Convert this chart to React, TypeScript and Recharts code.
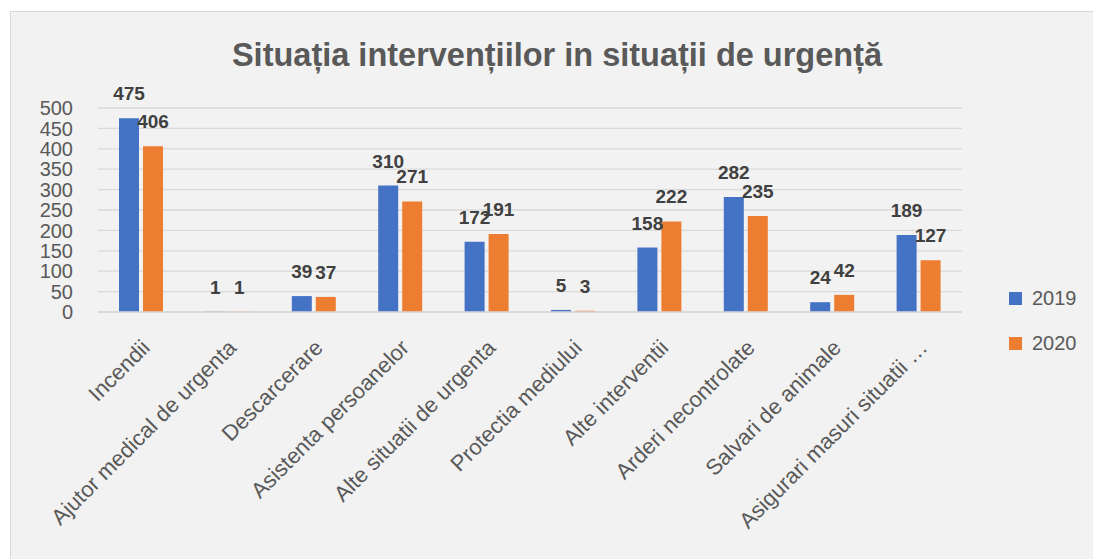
import React from "react"
import { BarChart, Bar, XAxis, YAxis, CartesianGrid, LabelList } from "recharts"

const categories = [
  "Incendii",
  "Ajutor medical de urgenta",
  "Descarcerare",
  "Asistenta persoanelor",
  "Alte situatii de urgenta",
  "Protectia mediului",
  "Alte interventii",
  "Arderi necontrolate",
  "Salvari de animale",
  "Asigurari masuri situatii …",
]

const values2019 = [475, 1, 39, 310, 172, 5, 158, 282, 24, 189]
const values2020 = [406, 1, 37, 271, 191, 3, 222, 235, 42, 127]

const yTicks = [0, 50, 100, 150, 200, 250, 300, 350, 400, 450, 500]

const series = [
  { key: "y2019", name: "2019", color: "#4472c4" },
  { key: "y2020", name: "2020", color: "#ed7d31" },
]

const data = categories.map((name, i) => ({
  name,
  y2019: values2019[i],
  y2020: values2020[i],
}))

const FONT = '"Liberation Sans", Arial, sans-serif'
const TEXT = "#595959"

export default function App() {
  return (
    <div style={{ position: "absolute", left: 0, top: 0, width: 1093, height: 559, background: "#fff", fontFamily: FONT }}>
      <div
        style={{
          position: "absolute",
          left: 10,
          top: 11,
          width: 1100,
          height: 560,
          background: "#f2f2f2",
          border: "1px solid #d9d9d9",
        }}
      />
      <div
        style={{
          position: "absolute",
          left: 0,
          width: 1114,
          top: 37,
          textAlign: "center",
          fontSize: 32.5,
          fontWeight: "bold",
          color: TEXT,
        }}
      >
        Situația intervențiilor in situații de urgență
      </div>

      <div style={{ position: "absolute", left: 0, top: 0 }}>
        <BarChart
          width={1093}
          height={559}
          data={data}
          margin={{ top: 108, right: 131, bottom: 47, left: 38 }}
          barSize={20}
          barGap={4}
        >
          <CartesianGrid vertical={false} stroke="#d9d9d9" strokeWidth={1.3} />
          <XAxis
            dataKey="name"
            height={200}
            interval={0}
            axisLine={{ stroke: "#d9d9d9", strokeWidth: 1.3 }}
            tickLine={false}
            tickSize={0}
            tickMargin={26}
            angle={-45}
            textAnchor="end"
            dx={-1}
            tick={{ fill: TEXT, fontSize: 22, fontFamily: FONT }}
          />
          <YAxis
            width={60}
            domain={[0, 500]}
            ticks={yTicks}
            interval={0}
            axisLine={false}
            tickLine={false}
            tickSize={0}
            tickMargin={25}
            tick={{ fill: TEXT, fontSize: 20, fontFamily: FONT }}
          />
          {series.map((s) => (
            <Bar key={s.key} dataKey={s.key} name={s.name} fill={s.color} isAnimationActive={false}>
              <LabelList
                dataKey={s.key}
                position="top"
                offset={18}
                style={{ fill: "#404040", fontSize: 19, fontWeight: "bold", fontFamily: FONT }}
              />
            </Bar>
          ))}
        </BarChart>
      </div>

      {series.map((s, i) => (
        <div
          key={s.key}
          style={{
            position: "absolute",
            left: 1009,
            top: 287 + i * 45,
            display: "flex",
            alignItems: "center",
            fontSize: 20,
            color: TEXT,
          }}
        >
          <span style={{ width: 13, height: 13, background: s.color, display: "inline-block", marginRight: 10 }} />
          {s.name}
        </div>
      ))}
    </div>
  )
}
